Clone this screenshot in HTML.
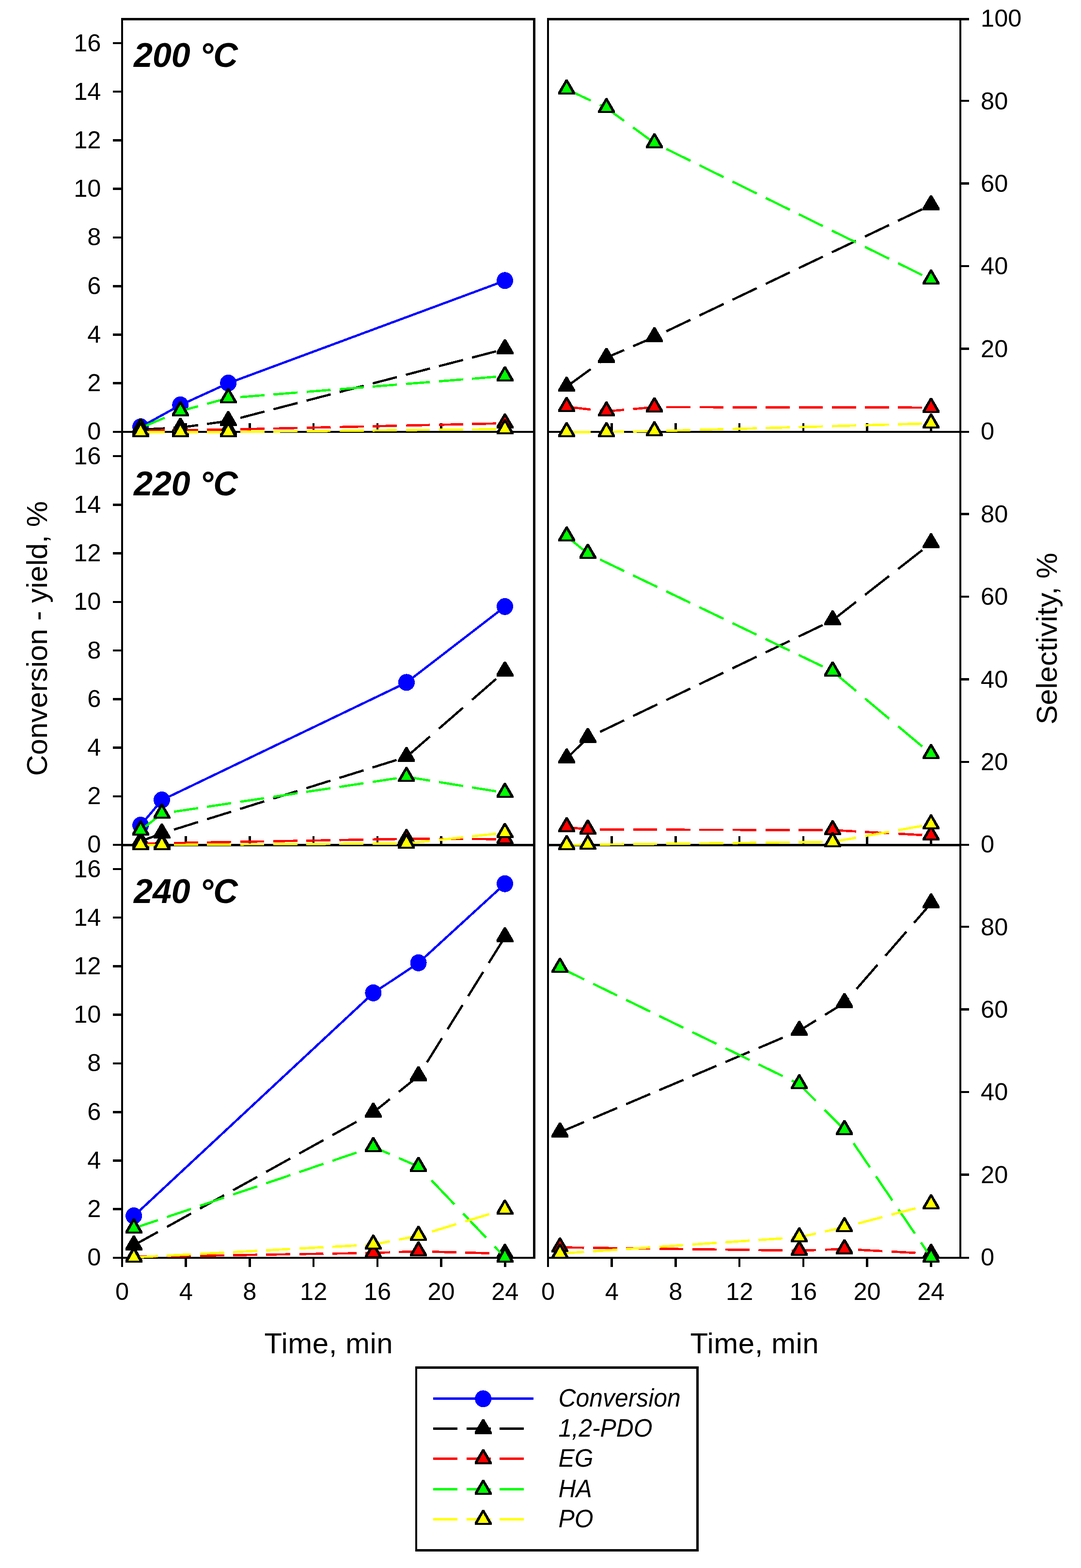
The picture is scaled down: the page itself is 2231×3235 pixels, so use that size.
<!DOCTYPE html>
<html lang="en">
<head>
<meta charset="utf-8">
<title>Conversion, yield and selectivity vs time</title>
<style>
html,body{margin:0;padding:0;background:#fff;}
body{width:2231px;height:3235px;overflow:hidden;font-family:"Liberation Sans", sans-serif;}
svg text{white-space:pre;}
</style>
</head>
<body>
<svg width="2231" height="3235" viewBox="0 0 2231 3235" style="display:block">
<rect width="2231" height="3235" fill="#fff"/>
<g shape-rendering="crispEdges">
<rect x="250" y="37" width="855" height="5" fill="#000"/>
<rect x="250" y="889" width="855" height="4" fill="#000"/>
<rect x="250" y="1741" width="855" height="5" fill="#000"/>
<rect x="250" y="2593" width="855" height="4" fill="#000"/>
<rect x="1129" y="37" width="855" height="5" fill="#000"/>
<rect x="1129" y="889" width="855" height="4" fill="#000"/>
<rect x="1129" y="1741" width="855" height="5" fill="#000"/>
<rect x="1129" y="2593" width="855" height="4" fill="#000"/>
<rect x="250" y="37" width="4" height="2577" fill="#000"/>
<rect x="1100" y="37" width="5" height="2560" fill="#000"/>
<rect x="1129" y="37" width="4" height="2577" fill="#000"/>
<rect x="1980" y="37" width="4" height="2560" fill="#000"/>
<rect x="381" y="2597" width="5" height="17" fill="#000"/>
<rect x="381" y="873" width="5" height="16" fill="#000"/>
<rect x="381" y="1725" width="5" height="16" fill="#000"/>
<rect x="513" y="2597" width="5" height="17" fill="#000"/>
<rect x="513" y="873" width="5" height="16" fill="#000"/>
<rect x="513" y="1725" width="5" height="16" fill="#000"/>
<rect x="645" y="2597" width="4" height="17" fill="#000"/>
<rect x="645" y="873" width="4" height="16" fill="#000"/>
<rect x="645" y="1725" width="4" height="16" fill="#000"/>
<rect x="777" y="2597" width="4" height="17" fill="#000"/>
<rect x="777" y="873" width="4" height="16" fill="#000"/>
<rect x="777" y="1725" width="4" height="16" fill="#000"/>
<rect x="908" y="2597" width="5" height="17" fill="#000"/>
<rect x="908" y="873" width="5" height="16" fill="#000"/>
<rect x="908" y="1725" width="5" height="16" fill="#000"/>
<rect x="1040" y="2597" width="5" height="17" fill="#000"/>
<rect x="1040" y="873" width="5" height="16" fill="#000"/>
<rect x="1040" y="1725" width="5" height="16" fill="#000"/>
<rect x="1260" y="2597" width="5" height="17" fill="#000"/>
<rect x="1260" y="873" width="5" height="16" fill="#000"/>
<rect x="1260" y="1725" width="5" height="16" fill="#000"/>
<rect x="1392" y="2597" width="5" height="17" fill="#000"/>
<rect x="1392" y="873" width="5" height="16" fill="#000"/>
<rect x="1392" y="1725" width="5" height="16" fill="#000"/>
<rect x="1524" y="2597" width="4" height="17" fill="#000"/>
<rect x="1524" y="873" width="4" height="16" fill="#000"/>
<rect x="1524" y="1725" width="4" height="16" fill="#000"/>
<rect x="1656" y="2597" width="4" height="17" fill="#000"/>
<rect x="1656" y="873" width="4" height="16" fill="#000"/>
<rect x="1656" y="1725" width="4" height="16" fill="#000"/>
<rect x="1787" y="2597" width="5" height="17" fill="#000"/>
<rect x="1787" y="873" width="5" height="16" fill="#000"/>
<rect x="1787" y="1725" width="5" height="16" fill="#000"/>
<rect x="1919" y="2597" width="5" height="17" fill="#000"/>
<rect x="1919" y="873" width="5" height="16" fill="#000"/>
<rect x="1919" y="1725" width="5" height="16" fill="#000"/>
<rect x="233" y="788" width="17" height="5" fill="#000"/>
<rect x="233" y="688" width="17" height="5" fill="#000"/>
<rect x="233" y="588" width="17" height="5" fill="#000"/>
<rect x="233" y="488" width="17" height="4" fill="#000"/>
<rect x="233" y="387" width="17" height="5" fill="#000"/>
<rect x="233" y="287" width="17" height="5" fill="#000"/>
<rect x="233" y="187" width="17" height="4" fill="#000"/>
<rect x="233" y="87" width="17" height="4" fill="#000"/>
<rect x="233" y="1641" width="17" height="4" fill="#000"/>
<rect x="233" y="1540" width="17" height="5" fill="#000"/>
<rect x="233" y="1440" width="17" height="5" fill="#000"/>
<rect x="233" y="1340" width="17" height="4" fill="#000"/>
<rect x="233" y="1240" width="17" height="4" fill="#000"/>
<rect x="233" y="1139" width="17" height="5" fill="#000"/>
<rect x="233" y="1039" width="17" height="5" fill="#000"/>
<rect x="233" y="939" width="17" height="4" fill="#000"/>
<rect x="233" y="2492" width="17" height="5" fill="#000"/>
<rect x="233" y="2392" width="17" height="5" fill="#000"/>
<rect x="233" y="2292" width="17" height="5" fill="#000"/>
<rect x="233" y="2192" width="17" height="4" fill="#000"/>
<rect x="233" y="2091" width="17" height="5" fill="#000"/>
<rect x="233" y="1991" width="17" height="5" fill="#000"/>
<rect x="233" y="1891" width="17" height="4" fill="#000"/>
<rect x="233" y="1791" width="17" height="4" fill="#000"/>
<rect x="233" y="889" width="17" height="4" fill="#000"/>
<rect x="233" y="1741" width="17" height="4" fill="#000"/>
<rect x="233" y="2593" width="17" height="4" fill="#000"/>
<rect x="1984" y="717" width="16" height="5" fill="#000"/>
<rect x="1984" y="547" width="16" height="4" fill="#000"/>
<rect x="1984" y="376" width="16" height="5" fill="#000"/>
<rect x="1984" y="206" width="16" height="4" fill="#000"/>
<rect x="1984" y="1570" width="16" height="4" fill="#000"/>
<rect x="1984" y="1399" width="16" height="5" fill="#000"/>
<rect x="1984" y="1229" width="16" height="4" fill="#000"/>
<rect x="1984" y="1058" width="16" height="5" fill="#000"/>
<rect x="1984" y="2421" width="16" height="5" fill="#000"/>
<rect x="1984" y="2251" width="16" height="4" fill="#000"/>
<rect x="1984" y="2080" width="16" height="5" fill="#000"/>
<rect x="1984" y="1910" width="16" height="4" fill="#000"/>
<rect x="1984" y="37" width="16" height="5" fill="#000"/>
<rect x="1984" y="889" width="16" height="4" fill="#000"/>
<rect x="1984" y="1741" width="16" height="4" fill="#000"/>
<rect x="1984" y="2593" width="16" height="4" fill="#000"/>
</g>
<g id="L1" shape-rendering="crispEdges">
<polyline points="290.2,880.9 372.3,835.7 471.1,790.6 1042.1,579.1" stroke="#0000ff" stroke-width="4.7" fill="none"/>
<ellipse cx="290.2" cy="880.6" rx="17" ry="17.5" fill="#0000ff"/>
<ellipse cx="372.3" cy="835.4" rx="17" ry="17.5" fill="#0000ff"/>
<ellipse cx="471.1" cy="790.3" rx="17" ry="17.5" fill="#0000ff"/>
<ellipse cx="1042.1" cy="578.8" rx="17" ry="17.5" fill="#0000ff"/>
<path d="M290.2 886.2L340.0 883.7 M358.5 882.8L372.3 882.1 M372.3 882.1L408.8 877.1 M427.3 874.6L471.1 868.6 M471.1 868.6L477.6 866.9 M496.1 862.1L545.9 849.1 M564.4 844.3L614.2 831.4 M632.7 826.6L682.5 813.6 M701.0 808.8L750.8 795.9 M769.3 791.0L819.1 778.1 M837.6 773.3L887.4 760.3 M905.9 755.5L955.7 742.6 M974.2 737.8L1024.0 724.8" stroke="#000000" stroke-width="4.7" fill="none"/>
<polygon points="288.3,865.9 292.1,865.9 307.7,892.5 307.7,896.9 272.7,896.9 272.7,892.5" fill="#000"/>
<polygon points="370.4,861.8 374.2,861.8 389.8,888.4 389.8,892.8 354.8,892.8 354.8,888.4" fill="#000"/>
<polygon points="469.2,848.2 473.0,848.2 488.6,874.9 488.6,879.2 453.6,879.2 453.6,874.9" fill="#000"/>
<polygon points="1040.2,699.8 1044.0,699.8 1059.6,726.4 1059.6,730.8 1024.6,730.8 1024.6,726.4" fill="#000"/>
<path d="M290.2 888.2L340.0 887.8 M358.5 887.6L372.3 887.5 M372.3 887.5L408.8 887.0 M427.3 886.8L471.1 886.2 M471.1 886.2L477.6 886.1 M496.1 885.6L545.9 884.5 M564.4 884.1L614.2 883.0 M632.7 882.5L682.5 881.4 M701.0 881.0L750.8 879.9 M769.3 879.5L819.1 878.3 M837.6 877.9L887.4 876.8 M905.9 876.4L955.7 875.3 M974.2 874.8L1024.0 873.7" stroke="#ff0000" stroke-width="4.7" fill="none"/>
<polygon points="288.3,867.9 292.1,867.9 307.7,894.5 307.7,898.9 272.7,898.9 272.7,894.5" fill="#000"/>
<polygon points="290.2,874.6 301.3,894.9 279.1,894.9" fill="#ff0000"/>
<polygon points="370.4,867.1 374.2,867.1 389.8,893.8 389.8,898.1 354.8,898.1 354.8,893.8" fill="#000"/>
<polygon points="372.3,873.9 383.4,894.1 361.2,894.1" fill="#ff0000"/>
<polygon points="469.2,865.9 473.0,865.9 488.6,892.5 488.6,896.9 453.6,896.9 453.6,892.5" fill="#000"/>
<polygon points="471.1,872.6 482.2,892.9 460.0,892.9" fill="#ff0000"/>
<polygon points="1040.2,853.0 1044.0,853.0 1059.6,879.6 1059.6,884.0 1024.6,884.0 1024.6,879.6" fill="#000"/>
<polygon points="1042.1,859.8 1053.2,880.0 1030.9,880.0" fill="#ff0000"/>
<path d="M290.2 882.9L340.0 861.8 M358.5 853.9L372.3 848.1 M372.3 848.1L408.8 838.2 M427.3 833.1L471.1 821.2 M471.1 821.2L477.6 820.7 M496.1 819.2L545.9 815.3 M564.4 813.8L614.2 809.8 M632.7 808.4L682.5 804.4 M701.0 803.0L750.8 799.0 M769.3 797.5L819.1 793.6 M837.6 792.1L887.4 788.2 M905.9 786.7L955.7 782.8 M974.2 781.3L1024.0 777.3" stroke="#00ff00" stroke-width="4.7" fill="none"/>
<polygon points="288.3,862.6 292.1,862.6 307.7,889.2 307.7,893.6 272.7,893.6 272.7,889.2" fill="#000"/>
<polygon points="290.2,869.4 301.3,889.6 279.1,889.6" fill="#00ff00"/>
<polygon points="370.4,827.8 374.2,827.8 389.8,854.4 389.8,858.8 354.8,858.8 354.8,854.4" fill="#000"/>
<polygon points="372.3,834.5 383.4,854.8 361.2,854.8" fill="#00ff00"/>
<polygon points="469.2,800.9 473.0,800.9 488.6,827.5 488.6,831.9 453.6,831.9 453.6,827.5" fill="#000"/>
<polygon points="471.1,807.6 482.2,827.9 460.0,827.9" fill="#00ff00"/>
<polygon points="1040.2,755.6 1044.0,755.6 1059.6,782.2 1059.6,786.6 1024.6,786.6 1024.6,782.2" fill="#000"/>
<polygon points="1042.1,762.4 1053.2,782.6 1030.9,782.6" fill="#00ff00"/>
<path d="M290.2 891.3L340.0 891.3 M358.5 891.3L372.3 891.3 M372.3 891.3L408.8 891.3 M427.3 891.3L471.1 891.3 M471.1 891.3L477.6 891.2 M496.1 891.0L545.9 890.5 M564.4 890.3L614.2 889.8 M632.7 889.6L682.5 889.1 M701.0 888.9L750.8 888.4 M769.3 888.2L819.1 887.6 M837.6 887.4L887.4 886.9 M905.9 886.7L955.7 886.2 M974.2 886.0L1024.0 885.5" stroke="#ffff00" stroke-width="4.7" fill="none"/>
<polygon points="288.3,871.0 292.1,871.0 307.7,897.6 307.7,902.0 272.7,902.0 272.7,897.6" fill="#000"/>
<polygon points="290.2,877.8 301.3,898.0 279.1,898.0" fill="#ffff00"/>
<polygon points="370.4,871.0 374.2,871.0 389.8,897.6 389.8,902.0 354.8,902.0 354.8,897.6" fill="#000"/>
<polygon points="372.3,877.8 383.4,898.0 361.2,898.0" fill="#ffff00"/>
<polygon points="469.2,871.0 473.0,871.0 488.6,897.6 488.6,902.0 453.6,902.0 453.6,897.6" fill="#000"/>
<polygon points="471.1,877.8 482.2,898.0 460.0,898.0" fill="#ffff00"/>
<polygon points="1040.2,865.0 1044.0,865.0 1059.6,891.6 1059.6,896.0 1024.6,896.0 1024.6,891.6" fill="#000"/>
<polygon points="1042.1,871.8 1053.2,892.0 1030.9,892.0" fill="#ffff00"/>
</g>
<g id="R1" shape-rendering="crispEdges">
<path d="M1169.4 797.7L1219.2 761.5 M1237.7 748.0L1251.6 737.9 M1251.6 737.9L1288.0 722.2 M1306.5 714.3L1350.6 695.3 M1350.6 695.3L1356.8 692.3 M1375.3 683.5L1425.1 659.8 M1443.6 650.9L1493.4 627.2 M1511.9 618.4L1561.7 594.6 M1580.2 585.8L1630.0 562.0 M1648.5 553.2L1698.3 529.5 M1716.8 520.6L1766.6 496.9 M1785.1 488.1L1834.9 464.3 M1853.4 455.5L1903.2 431.7" stroke="#000000" stroke-width="4.7" fill="none"/>
<polygon points="1167.5,777.4 1171.3,777.4 1186.9,804.0 1186.9,808.4 1151.9,808.4 1151.9,804.0" fill="#000"/>
<polygon points="1249.7,717.6 1253.5,717.6 1269.1,744.2 1269.1,748.6 1234.1,748.6 1234.1,744.2" fill="#000"/>
<polygon points="1348.7,675.0 1352.5,675.0 1368.1,701.6 1368.1,706.0 1333.1,706.0 1333.1,701.6" fill="#000"/>
<polygon points="1919.6,402.7 1923.4,402.7 1939.0,429.3 1939.0,433.7 1904.0,433.7 1904.0,429.3" fill="#000"/>
<path d="M1169.4 839.2L1219.2 845.0 M1237.7 847.1L1251.6 848.7 M1251.6 848.7L1288.0 845.5 M1306.5 843.9L1350.6 840.0 M1350.6 840.0L1356.8 840.0 M1375.3 840.0L1425.1 840.1 M1443.6 840.1L1493.4 840.2 M1511.9 840.3L1561.7 840.3 M1580.2 840.4L1630.0 840.4 M1648.5 840.5L1698.3 840.5 M1716.8 840.6L1766.6 840.7 M1785.1 840.7L1834.9 840.8 M1853.4 840.8L1903.2 840.9" stroke="#ff0000" stroke-width="4.7" fill="none"/>
<polygon points="1167.5,818.9 1171.3,818.9 1186.9,845.5 1186.9,849.9 1151.9,849.9 1151.9,845.5" fill="#000"/>
<polygon points="1169.4,825.6 1180.6,845.9 1158.2,845.9" fill="#ff0000"/>
<polygon points="1249.7,828.4 1253.5,828.4 1269.1,855.0 1269.1,859.4 1234.1,859.4 1234.1,855.0" fill="#000"/>
<polygon points="1251.6,835.1 1262.8,855.4 1240.4,855.4" fill="#ff0000"/>
<polygon points="1348.7,819.6 1352.5,819.6 1368.1,846.2 1368.1,850.6 1333.1,850.6 1333.1,846.2" fill="#000"/>
<polygon points="1350.6,826.4 1361.8,846.6 1339.4,846.6" fill="#ff0000"/>
<polygon points="1919.6,820.6 1923.4,820.6 1939.0,847.2 1939.0,851.6 1904.0,851.6 1904.0,847.2" fill="#000"/>
<polygon points="1921.5,827.4 1932.7,847.6 1910.3,847.6" fill="#ff0000"/>
<path d="M1169.4 184.1L1219.2 207.5 M1237.7 216.3L1251.6 222.8 M1251.6 222.8L1288.0 249.4 M1306.5 262.9L1350.6 295.1 M1350.6 295.1L1356.8 298.2 M1375.3 307.3L1425.1 331.8 M1443.6 340.9L1493.4 365.5 M1511.9 374.6L1561.7 399.2 M1580.2 408.3L1630.0 432.8 M1648.5 441.9L1698.3 466.5 M1716.8 475.6L1766.6 500.1 M1785.1 509.3L1834.9 533.8 M1853.4 542.9L1903.2 567.5" stroke="#00ff00" stroke-width="4.7" fill="none"/>
<polygon points="1167.5,163.8 1171.3,163.8 1186.9,190.3 1186.9,194.8 1151.9,194.8 1151.9,190.3" fill="#000"/>
<polygon points="1169.4,170.6 1180.6,190.8 1158.2,190.8" fill="#00ff00"/>
<polygon points="1249.7,202.4 1253.5,202.4 1269.1,229.0 1269.1,233.4 1234.1,233.4 1234.1,229.0" fill="#000"/>
<polygon points="1251.6,209.2 1262.8,229.4 1240.4,229.4" fill="#00ff00"/>
<polygon points="1348.7,274.8 1352.5,274.8 1368.1,301.4 1368.1,305.8 1333.1,305.8 1333.1,301.4" fill="#000"/>
<polygon points="1350.6,281.5 1361.8,301.8 1339.4,301.8" fill="#00ff00"/>
<polygon points="1919.6,556.1 1923.4,556.1 1939.0,582.8 1939.0,587.1 1904.0,587.1 1904.0,582.8" fill="#000"/>
<polygon points="1921.5,562.9 1932.7,583.1 1910.3,583.1" fill="#00ff00"/>
<path d="M1169.4 891.2L1219.2 891.2 M1237.7 891.2L1251.6 891.2 M1251.6 891.2L1288.0 890.6 M1306.5 890.3L1350.6 889.5 M1350.6 889.5L1356.8 889.3 M1375.3 888.8L1425.1 887.4 M1443.6 886.9L1493.4 885.5 M1511.9 885.0L1561.7 883.6 M1580.2 883.1L1630.0 881.7 M1648.5 881.2L1698.3 879.8 M1716.8 879.2L1766.6 877.8 M1785.1 877.3L1834.9 875.9 M1853.4 875.4L1903.2 874.0" stroke="#ffff00" stroke-width="4.7" fill="none"/>
<polygon points="1167.5,870.9 1171.3,870.9 1186.9,897.5 1186.9,901.9 1151.9,901.9 1151.9,897.5" fill="#000"/>
<polygon points="1169.4,877.6 1180.6,897.9 1158.2,897.9" fill="#ffff00"/>
<polygon points="1249.7,870.9 1253.5,870.9 1269.1,897.5 1269.1,901.9 1234.1,901.9 1234.1,897.5" fill="#000"/>
<polygon points="1251.6,877.6 1262.8,897.9 1240.4,897.9" fill="#ffff00"/>
<polygon points="1348.7,869.1 1352.5,869.1 1368.1,895.8 1368.1,900.1 1333.1,900.1 1333.1,895.8" fill="#000"/>
<polygon points="1350.6,875.9 1361.8,896.1 1339.4,896.1" fill="#ffff00"/>
<polygon points="1919.6,853.1 1923.4,853.1 1939.0,879.8 1939.0,884.1 1904.0,884.1 1904.0,879.8" fill="#000"/>
<polygon points="1921.5,859.9 1932.7,880.1 1910.3,880.1" fill="#ffff00"/>
</g>
<g id="L2" shape-rendering="crispEdges">
<polyline points="290.2,1702.8 334.0,1650.7 838.9,1408.2 1042.0,1251.7" stroke="#0000ff" stroke-width="4.7" fill="none"/>
<ellipse cx="290.2" cy="1702.5" rx="17" ry="17.5" fill="#0000ff"/>
<ellipse cx="334.0" cy="1650.4" rx="17" ry="17.5" fill="#0000ff"/>
<ellipse cx="838.9" cy="1407.9" rx="17" ry="17.5" fill="#0000ff"/>
<ellipse cx="1042.0" cy="1251.4" rx="17" ry="17.5" fill="#0000ff"/>
<path d="M290.2 1735.7L334.0 1719.4 M334.0 1719.4L340.5 1717.4 M359.0 1711.6L408.8 1696.0 M427.3 1690.2L477.1 1674.7 M495.6 1668.9L545.4 1653.3 M563.9 1647.5L613.7 1632.0 M632.2 1626.2L682.0 1610.6 M700.5 1604.9L750.3 1589.3 M768.8 1583.5L818.6 1567.9 M837.1 1562.2L838.9 1561.6 M838.9 1561.6L887.4 1519.4 M905.9 1503.3L955.7 1460.0 M974.2 1443.9L1024.0 1400.6" stroke="#000000" stroke-width="4.7" fill="none"/>
<polygon points="288.3,1715.3 292.1,1715.3 307.7,1741.9 307.7,1746.3 272.7,1746.3 272.7,1741.9" fill="#000"/>
<polygon points="332.1,1699.0 335.9,1699.0 351.5,1725.6 351.5,1730.0 316.5,1730.0 316.5,1725.6" fill="#000"/>
<polygon points="837.0,1541.2 840.8,1541.2 856.4,1567.8 856.4,1572.2 821.4,1572.2 821.4,1567.8" fill="#000"/>
<polygon points="1040.1,1364.5 1043.9,1364.5 1059.5,1391.1 1059.5,1395.5 1024.5,1395.5 1024.5,1391.1" fill="#000"/>
<path d="M290.2 1740.2L334.0 1739.7 M334.0 1739.7L340.5 1739.6 M359.0 1739.3L408.8 1738.4 M427.3 1738.0L477.1 1737.1 M495.6 1736.8L545.4 1735.9 M563.9 1735.6L613.7 1734.7 M632.2 1734.4L682.0 1733.5 M700.5 1733.2L750.3 1732.3 M768.8 1731.9L818.6 1731.1 M837.1 1730.7L838.9 1730.7 M838.9 1730.7L887.4 1730.8 M905.9 1730.9L955.7 1731.0 M974.2 1731.1L1024.0 1731.2" stroke="#ff0000" stroke-width="4.7" fill="none"/>
<polygon points="288.3,1719.8 292.1,1719.8 307.7,1746.4 307.7,1750.8 272.7,1750.8 272.7,1746.4" fill="#000"/>
<polygon points="290.2,1726.7 301.3,1746.8 279.1,1746.8" fill="#ff0000"/>
<polygon points="332.1,1719.3 335.9,1719.3 351.5,1745.9 351.5,1750.3 316.5,1750.3 316.5,1745.9" fill="#000"/>
<polygon points="334.0,1726.2 345.1,1746.3 322.9,1746.3" fill="#ff0000"/>
<polygon points="837.0,1710.3 840.8,1710.3 856.4,1736.9 856.4,1741.3 821.4,1741.3 821.4,1736.9" fill="#000"/>
<polygon points="838.9,1717.2 850.0,1737.3 827.8,1737.3" fill="#ff0000"/>
<polygon points="1040.1,1710.9 1043.9,1710.9 1059.5,1737.5 1059.5,1741.9 1024.5,1741.9 1024.5,1737.5" fill="#000"/>
<polygon points="1042.0,1717.8 1053.2,1737.9 1030.8,1737.9" fill="#ff0000"/>
<path d="M290.2 1713.2L334.0 1678.5 M334.0 1678.5L340.5 1677.5 M359.0 1674.7L408.8 1667.3 M427.3 1664.5L477.1 1657.0 M495.6 1654.2L545.4 1646.8 M563.9 1644.0L613.7 1636.5 M632.2 1633.7L682.0 1626.3 M700.5 1623.5L750.3 1616.0 M768.8 1613.2L818.6 1605.7 M837.1 1603.0L838.9 1602.7 M838.9 1602.7L887.4 1610.5 M905.9 1613.5L955.7 1621.6 M974.2 1624.6L1024.0 1632.6" stroke="#00ff00" stroke-width="4.7" fill="none"/>
<polygon points="288.3,1692.8 292.1,1692.8 307.7,1719.4 307.7,1723.8 272.7,1723.8 272.7,1719.4" fill="#000"/>
<polygon points="290.2,1699.7 301.3,1719.8 279.1,1719.8" fill="#00ff00"/>
<polygon points="332.1,1658.1 335.9,1658.1 351.5,1684.7 351.5,1689.1 316.5,1689.1 316.5,1684.7" fill="#000"/>
<polygon points="334.0,1665.0 345.1,1685.1 322.9,1685.1" fill="#00ff00"/>
<polygon points="837.0,1582.3 840.8,1582.3 856.4,1608.9 856.4,1613.3 821.4,1613.3 821.4,1608.9" fill="#000"/>
<polygon points="838.9,1589.2 850.0,1609.3 827.8,1609.3" fill="#00ff00"/>
<polygon points="1040.1,1615.1 1043.9,1615.1 1059.5,1641.7 1059.5,1646.1 1024.5,1646.1 1024.5,1641.7" fill="#000"/>
<polygon points="1042.0,1622.0 1053.2,1642.1 1030.8,1642.1" fill="#00ff00"/>
<path d="M290.2 1743.2L334.0 1743.2 M334.0 1743.2L340.5 1743.2 M359.0 1743.0L408.8 1742.7 M427.3 1742.6L477.1 1742.3 M495.6 1742.2L545.4 1741.9 M563.9 1741.8L613.7 1741.5 M632.2 1741.4L682.0 1741.1 M700.5 1740.9L750.3 1740.6 M768.8 1740.5L818.6 1740.2 M837.1 1740.1L838.9 1740.1 M838.9 1740.1L887.4 1734.9 M905.9 1732.9L955.7 1727.5 M974.2 1725.5L1024.0 1720.1" stroke="#ffff00" stroke-width="4.7" fill="none"/>
<polygon points="288.3,1722.8 292.1,1722.8 307.7,1749.4 307.7,1753.8 272.7,1753.8 272.7,1749.4" fill="#000"/>
<polygon points="290.2,1729.7 301.3,1749.8 279.1,1749.8" fill="#ffff00"/>
<polygon points="332.1,1722.8 335.9,1722.8 351.5,1749.4 351.5,1753.8 316.5,1753.8 316.5,1749.4" fill="#000"/>
<polygon points="334.0,1729.7 345.1,1749.8 322.9,1749.8" fill="#ffff00"/>
<polygon points="837.0,1719.8 840.8,1719.8 856.4,1746.3 856.4,1750.8 821.4,1750.8 821.4,1746.3" fill="#000"/>
<polygon points="838.9,1726.6 850.0,1746.8 827.8,1746.8" fill="#ffff00"/>
<polygon points="1040.1,1697.8 1043.9,1697.8 1059.5,1724.4 1059.5,1728.8 1024.5,1728.8 1024.5,1724.4" fill="#000"/>
<polygon points="1042.0,1704.7 1053.2,1724.8 1030.8,1724.8" fill="#ffff00"/>
</g>
<g id="R2" shape-rendering="crispEdges">
<path d="M1169.6 1564.6L1213.1 1522.1 M1213.1 1522.1L1219.9 1518.8 M1238.4 1510.0L1288.2 1486.1 M1306.7 1477.2L1356.5 1453.3 M1375.0 1444.4L1424.8 1420.5 M1443.3 1411.7L1493.1 1387.8 M1511.6 1378.9L1561.4 1355.0 M1579.9 1346.1L1629.7 1322.3 M1648.2 1313.4L1698.0 1289.5 M1716.5 1280.6L1718.4 1279.7 M1718.4 1279.7L1766.8 1241.8 M1785.3 1227.3L1835.1 1188.3 M1853.6 1173.9L1903.4 1134.9" stroke="#000000" stroke-width="4.7" fill="none"/>
<polygon points="1167.7,1544.2 1171.5,1544.2 1187.1,1570.8 1187.1,1575.2 1152.1,1575.2 1152.1,1570.8" fill="#000"/>
<polygon points="1211.2,1501.8 1215.0,1501.8 1230.6,1528.3 1230.6,1532.8 1195.6,1532.8 1195.6,1528.3" fill="#000"/>
<polygon points="1716.5,1259.3 1720.3,1259.3 1735.9,1285.9 1735.9,1290.3 1700.9,1290.3 1700.9,1285.9" fill="#000"/>
<polygon points="1919.6,1100.3 1923.4,1100.3 1939.0,1126.9 1939.0,1131.3 1904.0,1131.3 1904.0,1126.9" fill="#000"/>
<path d="M1169.6 1706.3L1213.1 1711.3 M1213.1 1711.3L1219.9 1711.3 M1238.4 1711.4L1288.2 1711.5 M1306.7 1711.6L1356.5 1711.7 M1375.0 1711.7L1424.8 1711.9 M1443.3 1711.9L1493.1 1712.1 M1511.6 1712.1L1561.4 1712.3 M1579.9 1712.3L1629.7 1712.5 M1648.2 1712.5L1698.0 1712.6 M1716.5 1712.7L1718.4 1712.7 M1718.4 1712.7L1766.8 1715.3 M1785.3 1716.4L1835.1 1719.1 M1853.6 1720.1L1903.4 1722.8" stroke="#ff0000" stroke-width="4.7" fill="none"/>
<polygon points="1167.7,1685.9 1171.5,1685.9 1187.1,1712.5 1187.1,1716.9 1152.1,1716.9 1152.1,1712.5" fill="#000"/>
<polygon points="1169.6,1692.8 1180.8,1712.9 1158.4,1712.9" fill="#ff0000"/>
<polygon points="1211.2,1690.9 1215.0,1690.9 1230.6,1717.5 1230.6,1721.9 1195.6,1721.9 1195.6,1717.5" fill="#000"/>
<polygon points="1213.1,1697.8 1224.2,1717.9 1201.9,1717.9" fill="#ff0000"/>
<polygon points="1716.5,1692.3 1720.3,1692.3 1735.9,1718.9 1735.9,1723.3 1700.9,1723.3 1700.9,1718.9" fill="#000"/>
<polygon points="1718.4,1699.2 1729.6,1719.3 1707.2,1719.3" fill="#ff0000"/>
<polygon points="1919.6,1703.4 1923.4,1703.4 1939.0,1730.0 1939.0,1734.4 1904.0,1734.4 1904.0,1730.0" fill="#000"/>
<polygon points="1921.5,1710.2 1932.7,1730.4 1910.3,1730.4" fill="#ff0000"/>
<path d="M1169.6 1106.6L1213.1 1142.1 M1213.1 1142.1L1219.9 1145.4 M1238.4 1154.3L1288.2 1178.2 M1306.7 1187.1L1356.5 1211.0 M1375.0 1219.9L1424.8 1243.8 M1443.3 1252.7L1493.1 1276.6 M1511.6 1285.5L1561.4 1309.5 M1579.9 1318.3L1629.7 1342.3 M1648.2 1351.2L1698.0 1375.1 M1716.5 1384.0L1718.4 1384.9 M1718.4 1384.9L1766.8 1425.5 M1785.3 1441.1L1835.1 1482.9 M1853.6 1498.4L1903.4 1540.2" stroke="#00ff00" stroke-width="4.7" fill="none"/>
<polygon points="1167.7,1086.2 1171.5,1086.2 1187.1,1112.8 1187.1,1117.2 1152.1,1117.2 1152.1,1112.8" fill="#000"/>
<polygon points="1169.6,1093.1 1180.8,1113.2 1158.4,1113.2" fill="#00ff00"/>
<polygon points="1211.2,1121.8 1215.0,1121.8 1230.6,1148.3 1230.6,1152.8 1195.6,1152.8 1195.6,1148.3" fill="#000"/>
<polygon points="1213.1,1128.6 1224.2,1148.8 1201.9,1148.8" fill="#00ff00"/>
<polygon points="1716.5,1364.5 1720.3,1364.5 1735.9,1391.1 1735.9,1395.5 1700.9,1395.5 1700.9,1391.1" fill="#000"/>
<polygon points="1718.4,1371.4 1729.6,1391.5 1707.2,1391.5" fill="#00ff00"/>
<polygon points="1919.6,1535.0 1923.4,1535.0 1939.0,1561.6 1939.0,1566.0 1904.0,1566.0 1904.0,1561.6" fill="#000"/>
<polygon points="1921.5,1541.9 1932.7,1562.0 1910.3,1562.0" fill="#00ff00"/>
<path d="M1169.6 1743.1L1213.1 1742.7 M1213.1 1742.7L1219.9 1742.6 M1238.4 1742.4L1288.2 1741.8 M1306.7 1741.6L1356.5 1741.1 M1375.0 1740.8L1424.8 1740.3 M1443.3 1740.1L1493.1 1739.5 M1511.6 1739.3L1561.4 1738.7 M1579.9 1738.5L1629.7 1737.9 M1648.2 1737.7L1698.0 1737.1 M1716.5 1736.9L1718.4 1736.9 M1718.4 1736.9L1766.8 1728.3 M1785.3 1725.0L1835.1 1716.1 M1853.6 1712.8L1903.4 1703.9" stroke="#ffff00" stroke-width="4.7" fill="none"/>
<polygon points="1167.7,1722.8 1171.5,1722.8 1187.1,1749.3 1187.1,1753.8 1152.1,1753.8 1152.1,1749.3" fill="#000"/>
<polygon points="1169.6,1729.6 1180.8,1749.8 1158.4,1749.8" fill="#ffff00"/>
<polygon points="1211.2,1722.3 1215.0,1722.3 1230.6,1748.9 1230.6,1753.3 1195.6,1753.3 1195.6,1748.9" fill="#000"/>
<polygon points="1213.1,1729.2 1224.2,1749.3 1201.9,1749.3" fill="#ffff00"/>
<polygon points="1716.5,1716.5 1720.3,1716.5 1735.9,1743.1 1735.9,1747.5 1700.9,1747.5 1700.9,1743.1" fill="#000"/>
<polygon points="1718.4,1723.4 1729.6,1743.5 1707.2,1743.5" fill="#ffff00"/>
<polygon points="1919.6,1680.3 1923.4,1680.3 1939.0,1706.9 1939.0,1711.3 1904.0,1711.3 1904.0,1706.9" fill="#000"/>
<polygon points="1921.5,1687.2 1932.7,1707.3 1910.3,1707.3" fill="#ffff00"/>
</g>
<g id="L3" shape-rendering="crispEdges">
<polyline points="276.2,2508.8 770.4,2048.7 863.6,1986.7 1042.0,1823.5" stroke="#0000ff" stroke-width="4.7" fill="none"/>
<ellipse cx="276.2" cy="2508.5" rx="17" ry="17.5" fill="#0000ff"/>
<ellipse cx="770.4" cy="2048.4" rx="17" ry="17.5" fill="#0000ff"/>
<ellipse cx="863.6" cy="1986.4" rx="17" ry="17.5" fill="#0000ff"/>
<ellipse cx="1042.0" cy="1823.2" rx="17" ry="17.5" fill="#0000ff"/>
<path d="M276.2 2569.2L326.0 2541.6 M344.5 2531.3L394.3 2503.7 M412.8 2493.5L462.6 2465.9 M481.1 2455.6L530.9 2428.0 M549.4 2417.7L599.2 2390.1 M617.7 2379.9L667.5 2352.3 M686.0 2342.0L735.8 2314.4 M754.3 2304.1L770.4 2295.2 M770.4 2295.2L804.6 2267.6 M823.1 2252.7L863.6 2220.0 M863.6 2220.0L869.7 2210.2 M881.2 2191.7L912.2 2141.9 M923.7 2123.4L954.7 2073.6 M966.2 2055.1L997.2 2005.3 M1008.7 1986.8L1039.7 1937.0" stroke="#000000" stroke-width="4.7" fill="none"/>
<polygon points="274.3,2548.8 278.1,2548.8 293.7,2575.4 293.7,2579.8 258.7,2579.8 258.7,2575.4" fill="#000"/>
<polygon points="768.5,2274.8 772.3,2274.8 787.9,2301.4 787.9,2305.8 752.9,2305.8 752.9,2301.4" fill="#000"/>
<polygon points="861.7,2199.7 865.5,2199.7 881.1,2226.2 881.1,2230.7 846.1,2230.7 846.1,2226.2" fill="#000"/>
<polygon points="1040.1,1912.9 1043.9,1912.9 1059.5,1939.5 1059.5,1943.9 1024.5,1943.9 1024.5,1939.5" fill="#000"/>
<path d="M276.2 2592.9L326.0 2592.1 M344.5 2591.8L394.3 2591.0 M412.8 2590.7L462.6 2589.9 M481.1 2589.6L530.9 2588.8 M549.4 2588.5L599.2 2587.7 M617.7 2587.4L667.5 2586.6 M686.0 2586.3L735.8 2585.6 M754.3 2585.3L770.4 2585.0 M770.4 2585.0L804.6 2583.8 M823.1 2583.1L863.6 2581.7 M863.6 2581.7L873.4 2582.0 M891.9 2582.5L941.7 2583.8 M960.2 2584.3L1010.0 2585.6 M1028.5 2586.1L1042.0 2586.5" stroke="#ff0000" stroke-width="4.7" fill="none"/>
<polygon points="274.3,2572.5 278.1,2572.5 293.7,2599.1 293.7,2603.5 258.7,2603.5 258.7,2599.1" fill="#000"/>
<polygon points="276.2,2579.3 287.3,2599.5 265.1,2599.5" fill="#ff0000"/>
<polygon points="768.5,2564.7 772.3,2564.7 787.9,2591.2 787.9,2595.7 752.9,2595.7 752.9,2591.2" fill="#000"/>
<polygon points="770.4,2571.5 781.5,2591.7 759.2,2591.7" fill="#ff0000"/>
<polygon points="861.7,2561.3 865.5,2561.3 881.1,2587.9 881.1,2592.3 846.1,2592.3 846.1,2587.9" fill="#000"/>
<polygon points="863.6,2568.2 874.8,2588.3 852.5,2588.3" fill="#ff0000"/>
<polygon points="1040.1,2566.2 1043.9,2566.2 1059.5,2592.8 1059.5,2597.2 1024.5,2597.2 1024.5,2592.8" fill="#000"/>
<polygon points="1042.0,2573.0 1053.2,2593.2 1030.8,2593.2" fill="#ff0000"/>
<path d="M276.2 2534.2L326.0 2517.3 M344.5 2511.0L394.3 2494.1 M412.8 2487.8L462.6 2470.8 M481.1 2464.5L530.9 2447.6 M549.4 2441.3L599.2 2424.4 M617.7 2418.1L667.5 2401.2 M686.0 2394.9L735.8 2378.0 M754.3 2371.7L770.4 2366.2 M770.4 2366.2L804.6 2381.1 M823.1 2389.2L863.6 2406.9 M863.6 2406.9L872.9 2416.7 M890.6 2435.2L938.0 2485.0 M955.7 2503.5L1003.1 2553.3 M1020.7 2571.8L1042.0 2594.1" stroke="#00ff00" stroke-width="4.7" fill="none"/>
<polygon points="274.3,2513.8 278.1,2513.8 293.7,2540.4 293.7,2544.8 258.7,2544.8 258.7,2540.4" fill="#000"/>
<polygon points="276.2,2520.7 287.3,2540.8 265.1,2540.8" fill="#00ff00"/>
<polygon points="768.5,2345.8 772.3,2345.8 787.9,2372.4 787.9,2376.8 752.9,2376.8 752.9,2372.4" fill="#000"/>
<polygon points="770.4,2352.7 781.5,2372.8 759.2,2372.8" fill="#00ff00"/>
<polygon points="861.7,2386.5 865.5,2386.5 881.1,2413.1 881.1,2417.5 846.1,2417.5 846.1,2413.1" fill="#000"/>
<polygon points="863.6,2393.3 874.8,2413.5 852.5,2413.5" fill="#00ff00"/>
<polygon points="1040.1,2573.8 1043.9,2573.8 1059.5,2600.3 1059.5,2604.8 1024.5,2604.8 1024.5,2600.3" fill="#000"/>
<polygon points="1042.0,2580.6 1053.2,2600.8 1030.8,2600.8" fill="#00ff00"/>
<path d="M276.2 2594.3L326.0 2591.6 M344.5 2590.6L394.3 2587.9 M412.8 2586.9L462.6 2584.3 M481.1 2583.3L530.9 2580.6 M549.4 2579.6L599.2 2576.9 M617.7 2575.9L667.5 2573.2 M686.0 2572.2L735.8 2569.6 M754.3 2568.6L770.4 2567.7 M770.4 2567.7L804.6 2561.0 M823.1 2557.4L863.6 2549.4 M863.6 2549.4L873.4 2546.4 M891.9 2540.8L941.7 2525.6 M960.2 2520.0L1010.0 2504.8 M1028.5 2499.2L1042.0 2495.1" stroke="#ffff00" stroke-width="4.7" fill="none"/>
<polygon points="274.3,2573.9 278.1,2573.9 293.7,2600.5 293.7,2604.9 258.7,2604.9 258.7,2600.5" fill="#000"/>
<polygon points="276.2,2580.8 287.3,2600.9 265.1,2600.9" fill="#ffff00"/>
<polygon points="768.5,2547.3 772.3,2547.3 787.9,2573.9 787.9,2578.3 752.9,2578.3 752.9,2573.9" fill="#000"/>
<polygon points="770.4,2554.2 781.5,2574.3 759.2,2574.3" fill="#ffff00"/>
<polygon points="861.7,2529.0 865.5,2529.0 881.1,2555.6 881.1,2560.0 846.1,2560.0 846.1,2555.6" fill="#000"/>
<polygon points="863.6,2535.8 874.8,2556.0 852.5,2556.0" fill="#ffff00"/>
<polygon points="1040.1,2474.8 1043.9,2474.8 1059.5,2501.3 1059.5,2505.8 1024.5,2505.8 1024.5,2501.3" fill="#000"/>
<polygon points="1042.0,2481.6 1053.2,2501.8 1030.8,2501.8" fill="#ffff00"/>
</g>
<g id="R3" shape-rendering="crispEdges">
<path d="M1155.7 2336.0L1205.5 2314.9 M1224.0 2307.0L1273.8 2285.9 M1292.3 2278.1L1342.1 2256.9 M1360.6 2249.1L1410.4 2228.0 M1428.9 2220.1L1478.7 2199.0 M1497.2 2191.1L1547.0 2170.0 M1565.5 2162.2L1615.3 2141.0 M1633.8 2133.2L1649.6 2126.5 M1649.6 2126.5L1684.1 2105.2 M1702.6 2093.8L1742.8 2069.0 M1742.8 2069.0L1751.6 2058.9 M1767.7 2040.4L1811.0 1990.6 M1827.2 1972.1L1870.5 1922.3 M1886.6 1903.8L1921.6 1863.6" stroke="#000000" stroke-width="4.7" fill="none"/>
<polygon points="1153.8,2315.7 1157.6,2315.7 1173.2,2342.2 1173.2,2346.7 1138.2,2346.7 1138.2,2342.2" fill="#000"/>
<polygon points="1647.7,2106.2 1651.5,2106.2 1667.1,2132.8 1667.1,2137.2 1632.1,2137.2 1632.1,2132.8" fill="#000"/>
<polygon points="1740.9,2048.7 1744.7,2048.7 1760.3,2075.2 1760.3,2079.7 1725.3,2079.7 1725.3,2075.2" fill="#000"/>
<polygon points="1919.7,1843.2 1923.5,1843.2 1939.1,1869.8 1939.1,1874.2 1904.1,1874.2 1904.1,1869.8" fill="#000"/>
<path d="M1155.7 2573.5L1205.5 2574.2 M1224.0 2574.4L1273.8 2575.1 M1292.3 2575.4L1342.1 2576.0 M1360.6 2576.3L1410.4 2577.0 M1428.9 2577.2L1478.7 2577.9 M1497.2 2578.1L1547.0 2578.8 M1565.5 2579.1L1615.3 2579.7 M1633.8 2580.0L1649.6 2580.2 M1649.6 2580.2L1684.1 2579.0 M1702.6 2578.3L1742.8 2576.9 M1742.8 2576.9L1752.9 2577.5 M1771.4 2578.5L1821.2 2581.2 M1839.7 2582.2L1889.5 2584.9 M1908.0 2586.0L1921.6 2586.7" stroke="#ff0000" stroke-width="4.7" fill="none"/>
<polygon points="1153.8,2553.2 1157.6,2553.2 1173.2,2579.8 1173.2,2584.2 1138.2,2584.2 1138.2,2579.8" fill="#000"/>
<polygon points="1155.7,2560.0 1166.9,2580.2 1144.5,2580.2" fill="#ff0000"/>
<polygon points="1647.7,2559.8 1651.5,2559.8 1667.1,2586.4 1667.1,2590.8 1632.1,2590.8 1632.1,2586.4" fill="#000"/>
<polygon points="1649.6,2566.7 1660.8,2586.8 1638.4,2586.8" fill="#ff0000"/>
<polygon points="1740.9,2556.5 1744.7,2556.5 1760.3,2583.1 1760.3,2587.5 1725.3,2587.5 1725.3,2583.1" fill="#000"/>
<polygon points="1742.8,2563.3 1754.0,2583.5 1731.6,2583.5" fill="#ff0000"/>
<polygon points="1919.7,2566.3 1923.5,2566.3 1939.1,2592.9 1939.1,2597.3 1904.1,2597.3 1904.1,2592.9" fill="#000"/>
<polygon points="1921.6,2573.2 1932.8,2593.3 1910.4,2593.3" fill="#ff0000"/>
<path d="M1155.7 1996.4L1205.5 2020.6 M1224.0 2029.6L1273.8 2053.9 M1292.3 2062.9L1342.1 2087.1 M1360.6 2096.1L1410.4 2120.4 M1428.9 2129.4L1478.7 2153.6 M1497.2 2162.6L1547.0 2186.9 M1565.5 2195.9L1615.3 2220.1 M1633.8 2229.1L1649.6 2236.8 M1649.6 2236.8L1683.7 2271.3 M1702.0 2289.8L1742.8 2331.0 M1742.8 2331.0L1749.0 2340.1 M1761.5 2358.6L1795.4 2408.4 M1807.9 2426.9L1841.7 2476.7 M1854.3 2495.2L1888.1 2545.0 M1900.7 2563.5L1921.6 2594.3" stroke="#00ff00" stroke-width="4.7" fill="none"/>
<polygon points="1153.8,1976.0 1157.6,1976.0 1173.2,2002.6 1173.2,2007.0 1138.2,2007.0 1138.2,2002.6" fill="#000"/>
<polygon points="1155.7,1982.9 1166.9,2003.0 1144.5,2003.0" fill="#00ff00"/>
<polygon points="1647.7,2216.4 1651.5,2216.4 1667.1,2243.0 1667.1,2247.4 1632.1,2247.4 1632.1,2243.0" fill="#000"/>
<polygon points="1649.6,2223.2 1660.8,2243.4 1638.4,2243.4" fill="#00ff00"/>
<polygon points="1740.9,2310.7 1744.7,2310.7 1760.3,2337.2 1760.3,2341.7 1725.3,2341.7 1725.3,2337.2" fill="#000"/>
<polygon points="1742.8,2317.5 1754.0,2337.7 1731.6,2337.7" fill="#00ff00"/>
<polygon points="1919.7,2573.9 1923.5,2573.9 1939.1,2600.5 1939.1,2604.9 1904.1,2604.9 1904.1,2600.5" fill="#000"/>
<polygon points="1921.6,2580.8 1932.8,2600.9 1910.4,2600.9" fill="#00ff00"/>
<path d="M1155.7 2586.2L1205.5 2582.8 M1224.0 2581.6L1273.8 2578.2 M1292.3 2576.9L1342.1 2573.5 M1360.6 2572.3L1410.4 2568.9 M1428.9 2567.6L1478.7 2564.2 M1497.2 2563.0L1547.0 2559.6 M1565.5 2558.3L1615.3 2554.9 M1633.8 2553.7L1649.6 2552.6 M1649.6 2552.6L1684.1 2544.9 M1702.6 2540.7L1742.8 2531.7 M1742.8 2531.7L1752.9 2529.0 M1771.4 2524.1L1821.2 2511.0 M1839.7 2506.1L1889.5 2492.9 M1908.0 2488.0L1921.6 2484.4" stroke="#ffff00" stroke-width="4.7" fill="none"/>
<polygon points="1153.8,2565.8 1157.6,2565.8 1173.2,2592.4 1173.2,2596.8 1138.2,2596.8 1138.2,2592.4" fill="#000"/>
<polygon points="1155.7,2572.7 1166.9,2592.8 1144.5,2592.8" fill="#ffff00"/>
<polygon points="1647.7,2532.2 1651.5,2532.2 1667.1,2558.8 1667.1,2563.2 1632.1,2563.2 1632.1,2558.8" fill="#000"/>
<polygon points="1649.6,2539.1 1660.8,2559.2 1638.4,2559.2" fill="#ffff00"/>
<polygon points="1740.9,2511.3 1744.7,2511.3 1760.3,2537.9 1760.3,2542.3 1725.3,2542.3 1725.3,2537.9" fill="#000"/>
<polygon points="1742.8,2518.2 1754.0,2538.3 1731.6,2538.3" fill="#ffff00"/>
<polygon points="1919.7,2464.0 1923.5,2464.0 1939.1,2490.6 1939.1,2495.0 1904.1,2495.0 1904.1,2490.6" fill="#000"/>
<polygon points="1921.6,2470.8 1932.8,2491.0 1910.4,2491.0" fill="#ffff00"/>
</g>
<g font-family='"Liberation Sans", sans-serif' font-size="50.6" fill="#000">
<text x="208.5" y="907.2" text-anchor="end">0</text>
<text x="208.5" y="807.0" text-anchor="end">2</text>
<text x="208.5" y="706.8" text-anchor="end">4</text>
<text x="208.5" y="606.6" text-anchor="end">6</text>
<text x="208.5" y="506.4" text-anchor="end">8</text>
<text x="208.5" y="406.2" text-anchor="end">10</text>
<text x="208.5" y="306.0" text-anchor="end">12</text>
<text x="208.5" y="205.8" text-anchor="end">14</text>
<text x="208.5" y="105.6" text-anchor="end">16</text>
<text x="208.5" y="1759.3" text-anchor="end">0</text>
<text x="208.5" y="1659.1" text-anchor="end">2</text>
<text x="208.5" y="1558.9" text-anchor="end">4</text>
<text x="208.5" y="1458.7" text-anchor="end">6</text>
<text x="208.5" y="1358.5" text-anchor="end">8</text>
<text x="208.5" y="1258.3" text-anchor="end">10</text>
<text x="208.5" y="1158.1" text-anchor="end">12</text>
<text x="208.5" y="1057.9" text-anchor="end">14</text>
<text x="208.5" y="957.7" text-anchor="end">16</text>
<text x="208.5" y="2611.2" text-anchor="end">0</text>
<text x="208.5" y="2511.0" text-anchor="end">2</text>
<text x="208.5" y="2410.8" text-anchor="end">4</text>
<text x="208.5" y="2310.6" text-anchor="end">6</text>
<text x="208.5" y="2210.4" text-anchor="end">8</text>
<text x="208.5" y="2110.2" text-anchor="end">10</text>
<text x="208.5" y="2010.0" text-anchor="end">12</text>
<text x="208.5" y="1909.8" text-anchor="end">14</text>
<text x="208.5" y="1809.6" text-anchor="end">16</text>
<text x="2024" y="907.2">0</text>
<text x="2024" y="736.8">20</text>
<text x="2024" y="566.4">40</text>
<text x="2024" y="396.0">60</text>
<text x="2024" y="225.6">80</text>
<text x="2024" y="55.2">100</text>
<text x="2024" y="1759.3">0</text>
<text x="2024" y="1588.9">20</text>
<text x="2024" y="1418.5">40</text>
<text x="2024" y="1248.1">60</text>
<text x="2024" y="1077.7">80</text>
<text x="2024" y="2611.2">0</text>
<text x="2024" y="2440.8">20</text>
<text x="2024" y="2270.4">40</text>
<text x="2024" y="2100.0">60</text>
<text x="2024" y="1929.6">80</text>
<text x="252.0" y="2681.8" text-anchor="middle">0</text>
<text x="383.7" y="2681.8" text-anchor="middle">4</text>
<text x="515.4" y="2681.8" text-anchor="middle">8</text>
<text x="647.2" y="2681.8" text-anchor="middle">12</text>
<text x="778.9" y="2681.8" text-anchor="middle">16</text>
<text x="910.6" y="2681.8" text-anchor="middle">20</text>
<text x="1042.3" y="2681.8" text-anchor="middle">24</text>
<text x="1131.0" y="2681.8" text-anchor="middle">0</text>
<text x="1262.7" y="2681.8" text-anchor="middle">4</text>
<text x="1394.4" y="2681.8" text-anchor="middle">8</text>
<text x="1526.2" y="2681.8" text-anchor="middle">12</text>
<text x="1657.9" y="2681.8" text-anchor="middle">16</text>
<text x="1789.6" y="2681.8" text-anchor="middle">20</text>
<text x="1921.3" y="2681.8" text-anchor="middle">24</text>
</g>
<g font-family='"Liberation Sans", sans-serif' font-size="60" fill="#000">
<text x="545.6" y="2791.5" letter-spacing="0.5">Time, min</text>
<text x="1424.6" y="2791.5" letter-spacing="0.5">Time, min</text>
<text transform="translate(97.3 1317.3) rotate(-90)" text-anchor="middle">Conversion - yield, %</text>
<text transform="translate(2181 1317.5) rotate(-90)" text-anchor="middle" letter-spacing="0.17">Selectivity, %</text>
</g>
<g font-family='"Liberation Sans", sans-serif' font-size="70" font-weight="bold" font-style="italic" fill="#000">
<text x="276" y="137.5">200 °C</text>
<text x="276" y="1022">220 °C</text>
<text x="276" y="1863">240 °C</text>
</g>
<g shape-rendering="crispEdges">
<rect x="857" y="2819" width="585" height="382" fill="#000"/>
<rect x="861" y="2824" width="576" height="372" fill="#fff"/>
</g>
<g id="legend-symbols" shape-rendering="crispEdges">
<rect x="894" y="2883" width="207" height="5" fill="#0000ff" shape-rendering="crispEdges"/>
<ellipse cx="997.2" cy="2885.9" rx="17" ry="17.5" fill="#0000ff"/>
<rect x="894" y="2945" width="50" height="5" fill="#000000" shape-rendering="crispEdges"/>
<rect x="962.6" y="2945" width="50" height="5" fill="#000000" shape-rendering="crispEdges"/>
<rect x="1031.2" y="2945" width="50" height="5" fill="#000000" shape-rendering="crispEdges"/>
<polygon points="995.3,2927.8 999.1,2927.8 1014.7,2954.4 1014.7,2958.8 979.7,2958.8 979.7,2954.4" fill="#000"/>
<rect x="894" y="3007" width="50" height="5" fill="#ff0000" shape-rendering="crispEdges"/>
<rect x="962.6" y="3007" width="50" height="5" fill="#ff0000" shape-rendering="crispEdges"/>
<rect x="1031.2" y="3007" width="50" height="5" fill="#ff0000" shape-rendering="crispEdges"/>
<polygon points="995.3,2989.8 999.1,2989.8 1014.7,3016.4 1014.7,3020.8 979.7,3020.8 979.7,3016.4" fill="#000"/>
<polygon points="997.2,2996.7 1008.4,3016.8 986.1,3016.8" fill="#ff0000"/>
<rect x="894" y="3070" width="50" height="5" fill="#00ff00" shape-rendering="crispEdges"/>
<rect x="962.6" y="3070" width="50" height="5" fill="#00ff00" shape-rendering="crispEdges"/>
<rect x="1031.2" y="3070" width="50" height="5" fill="#00ff00" shape-rendering="crispEdges"/>
<polygon points="995.3,3052.8 999.1,3052.8 1014.7,3079.4 1014.7,3083.8 979.7,3083.8 979.7,3079.4" fill="#000"/>
<polygon points="997.2,3059.7 1008.4,3079.8 986.1,3079.8" fill="#00ff00"/>
<rect x="894" y="3132" width="50" height="5" fill="#ffff00" shape-rendering="crispEdges"/>
<rect x="962.6" y="3132" width="50" height="5" fill="#ffff00" shape-rendering="crispEdges"/>
<rect x="1031.2" y="3132" width="50" height="5" fill="#ffff00" shape-rendering="crispEdges"/>
<polygon points="995.3,3114.8 999.1,3114.8 1014.7,3141.4 1014.7,3145.8 979.7,3145.8 979.7,3141.4" fill="#000"/>
<polygon points="997.2,3121.7 1008.4,3141.8 986.1,3141.8" fill="#ffff00"/>
</g>
<g font-family='"Liberation Sans", sans-serif' font-size="51.5" font-style="italic" fill="#000">
<text transform="translate(1152.6 2902.1) scale(0.968 1)">Conversion</text>
<text transform="translate(1152.6 2964.1) scale(0.968 1)">1,2-PDO</text>
<text transform="translate(1152.6 3026.1) scale(0.968 1)">EG</text>
<text transform="translate(1152.6 3089.1) scale(0.968 1)">HA</text>
<text transform="translate(1152.6 3151.1) scale(0.968 1)">PO</text>
</g>
</svg>
</body>
</html>
